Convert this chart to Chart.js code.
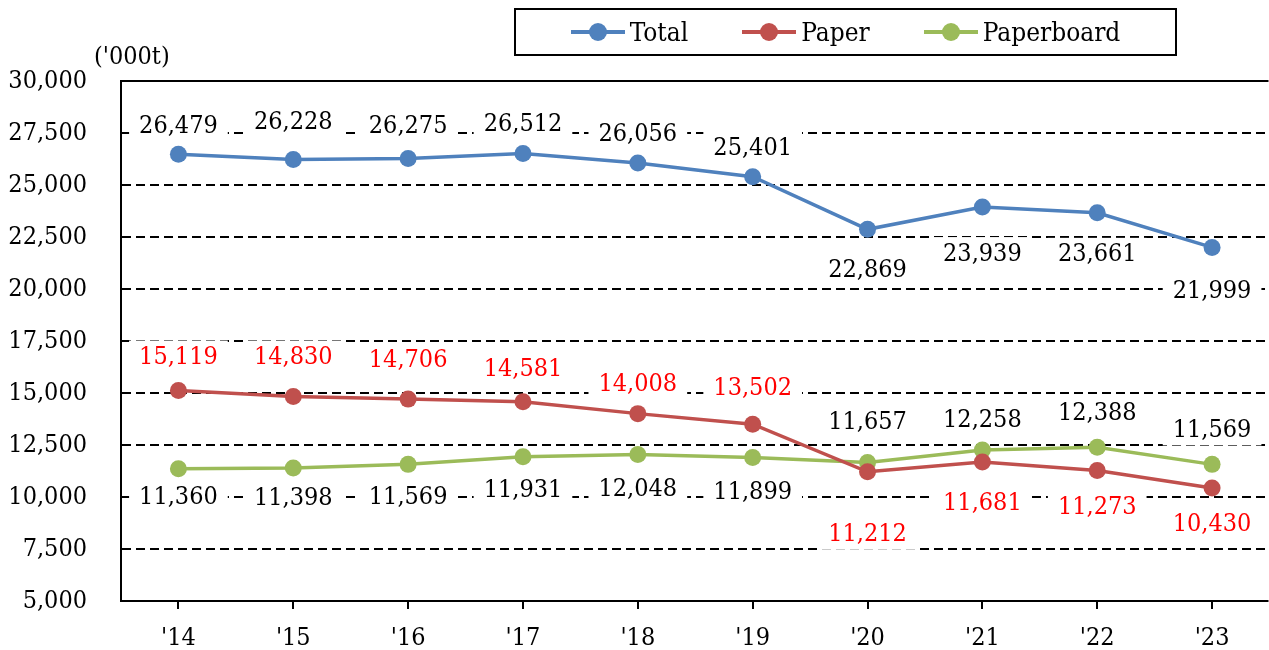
<!DOCTYPE html>
<html lang="en">
<head>
<meta charset="UTF-8">
<title>Paper and paperboard production</title>
<script src="https://cdn.jsdelivr.net/npm/chart.js@4/dist/chart.umd.min.js"></script>
<style>
  html, body { margin:0; background:#fff; overflow:hidden; font-family:"DejaVu Serif Condensed", "DejaVu Serif", serif; }
  #wrap { position:relative; width:1269px; height:650px; overflow:hidden; }
  canvas { display:block; }
  #unit { position:absolute; left:94px; top:41px; font-size:25px; }
  #legend { position:absolute; left:514px; top:8px; width:659px; height:44px; border:2px solid #000;
            display:flex; align-items:center; justify-content:center; gap:54px; font-size:26px; }
  .item { display:flex; align-items:center; }
  .sym { position:relative; width:54px; height:18px; margin-right:5px; }
  .sym .ln { position:absolute; left:0; right:0; top:7px; height:4px; }
  .sym .dot { position:absolute; left:18px; top:0; width:18px; height:18px; border-radius:50%; }
</style>
</head>
<body>
<div id="wrap">
  <!-- canvas is a bit wider than the window so the plot runs to the right edge -->
  <canvas id="c" width="1278" height="650"></canvas>
  <div id="unit">('000t)</div>
  <div id="legend"></div>
</div>
<script>
const years = ["'14", "'15", "'16", "'17", "'18", "'19", "'20", "'21", "'22", "'23"];
const total = [26479, 26228, 26275, 26512, 26056, 25401, 22869, 23939, 23661, 21999];
const paper = [15119, 14830, 14706, 14581, 14008, 13502, 11212, 11681, 11273, 10430];
const paperboard = [11360, 11398, 11569, 11931, 12048, 11899, 11657, 12258, 12388, 11569];

// label offsets in px from the point (negative = above)
const totalOff = [-29, -38, -33, -30, -30, -29, 40, 46, 41, 43];
const paperOff = [-34, -40, -40, -33, -30, -37, 62, 40, 36, 35];
const boardOff = [28, 30, 32, 33, 34, 34, -41, -31, -35, -35];

const series = [
  { label: 'Total', data: total, color: '#4F81BD', text: '#000', off: totalOff },
  { label: 'Paper', data: paper, color: '#C0504D', text: '#FF0000', off: paperOff },
  { label: 'Paperboard', data: paperboard, color: '#9BBB59', text: '#000', off: boardOff }
];

const font = "'DejaVu Serif Condensed', 'DejaVu Serif', serif";

// html legend
const leg = document.getElementById('legend');
series.forEach(s => {
  const it = document.createElement('div');
  it.className = 'item';
  it.innerHTML = '<span class="sym"><span class="ln" style="background:' + s.color + '"></span>' +
    '<span class="dot" style="background:' + s.color + '"></span></span>' + s.label;
  leg.appendChild(it);
});

const topLine = {
  id: 'topLine',
  beforeDatasetsDraw(chart) {
    const ctx = chart.ctx, a = chart.chartArea;
    ctx.save();
    ctx.strokeStyle = '#000';
    ctx.lineWidth = 2;
    ctx.beginPath();
    ctx.moveTo(a.left, a.top);
    ctx.lineTo(a.right, a.top);
    ctx.stroke();
    ctx.restore();
  }
};

const valueLabels = {
  id: 'valueLabels',
  afterDatasetsDraw(chart) {
    const ctx = chart.ctx;
    ctx.save();
    ctx.font = '25px ' + font;
    ctx.textAlign = 'center';
    ctx.textBaseline = 'middle';
    chart.data.datasets.forEach((ds, i) => {
      const s = series[i];
      chart.getDatasetMeta(i).data.forEach((pt, j) => {
        const txt = ds.data[j].toLocaleString('en-US');
        const x = pt.x, y = pt.y + s.off[j];
        const w = ctx.measureText(txt).width + 20;
        ctx.fillStyle = '#fff';
        ctx.fillRect(x - w / 2, y - 16, w, 32);
        ctx.fillStyle = s.text;
        ctx.fillText(txt, x, y + 1);
      });
    });
    // no frame on the right side of the plot
    const a = chart.chartArea;
    ctx.fillStyle = '#fff';
    ctx.fillRect(a.right - 1, a.top - 2, 12, a.bottom - a.top + 12);
    ctx.restore();
  }
};

new Chart(document.getElementById('c'), {
  type: 'line',
  data: {
    labels: years,
    datasets: series.map(s => ({
      label: s.label,
      data: s.data,
      borderColor: s.color,
      backgroundColor: s.color,
      borderWidth: 3.5,
      pointRadius: 8.5,
      pointHoverRadius: 8.5,
      pointBorderWidth: 0,
      tension: 0
    }))
  },
  options: {
    responsive: false,
    animation: false,
    layout: { padding: { top: 81, right: 0, bottom: 0, left: 0 } },
    plugins: { legend: { display: false }, tooltip: { enabled: false } },
    scales: {
      x: {
        offset: true,
        afterFit(scale) { scale.height = 48; scale.paddingRight = 0; scale.paddingLeft = 0; },
        grid: { drawOnChartArea: false, drawTicks: true, tickLength: 8, color: '#000', lineWidth: 2 },
        border: { color: '#000', width: 2 },
        ticks: { color: '#000', padding: 14, font: { family: font, size: 25 } }
      },
      y: {
        min: 5000,
        max: 30000,
        afterFit(scale) { scale.width = 121; },
        grid: { drawTicks: false, color: '#000', lineWidth: 2 },
        border: { color: '#000', width: 2, dash: [9, 5] },
        ticks: {
          stepSize: 2500,
          color: '#000',
          padding: 34,
          font: { family: font, size: 25 },
          callback: v => v.toLocaleString('en-US')
        }
      }
    }
  },
  plugins: [topLine, valueLabels]
});
</script>
</body>
</html>
